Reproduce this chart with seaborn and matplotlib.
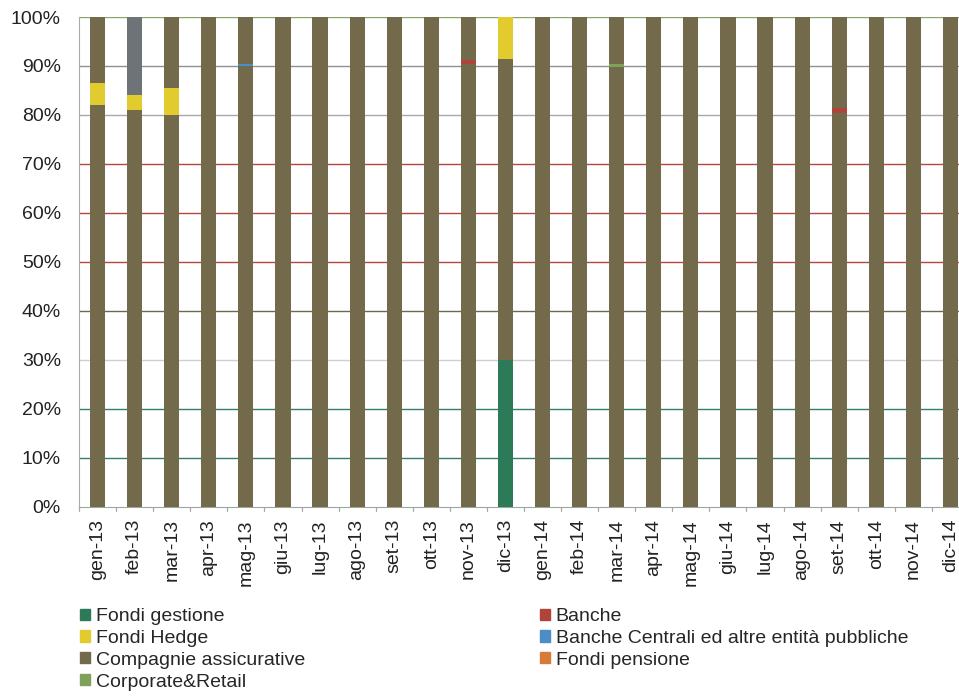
import matplotlib
matplotlib.use("Agg")
import matplotlib.pyplot as plt
from matplotlib.patches import Patch
import seaborn as sns
import numpy as np

months = ["gen-13", "feb-13", "mar-13", "apr-13", "mag-13", "giu-13", "lug-13", "ago-13",
          "set-13", "ott-13", "nov-13", "dic-13", "gen-14", "feb-14", "mar-14", "apr-14",
          "mag-14", "giu-14", "lug-14", "ago-14", "set-14", "ott-14", "nov-14", "dic-14"]

# values in %, stacked bottom -> top
fondi_gestione   = [0, 0, 0, 0, 0, 0, 0, 0, 0, 0, 0, 30, 0, 0, 0, 0, 0, 0, 0, 0, 0, 0, 0, 0]
compagnie_base   = [82, 81, 80, 100, 90, 100, 100, 100, 100, 100, 90.5, 61.5, 100, 100, 89.7, 100,
                    100, 100, 100, 100, 80.3, 100, 100, 100]
fondi_hedge      = [4.5, 3, 5.5, 0, 0, 0, 0, 0, 0, 0, 0, 8.5, 0, 0, 0, 0, 0, 0, 0, 0, 0, 0, 0, 0]
banche           = [0, 0, 0, 0, 0, 0, 0, 0, 0, 0, 0.8, 0, 0, 0, 0, 0, 0, 0, 0, 0, 1.2, 0, 0, 0]
banche_centrali  = [0, 0, 0, 0, 0.5, 0, 0, 0, 0, 0, 0, 0, 0, 0, 0, 0, 0, 0, 0, 0, 0, 0, 0, 0]
fondi_pensione   = [0, 0, 0, 0, 0, 0, 0, 0, 0, 0, 0, 0, 0, 0, 0, 0, 0, 0, 0, 0, 0, 0, 0, 0]
corporate_retail = [0, 0, 0, 0, 0, 0, 0, 0, 0, 0, 0, 0, 0, 0, 0.7, 0, 0, 0, 0, 0, 0, 0, 0, 0]
compagnie_top    = [13.5, 0, 14.5, 0, 9.5, 0, 0, 0, 0, 0, 8.7, 0, 0, 0, 9.6, 0, 0, 0, 0, 0,
                    18.5, 0, 0, 0]
altro            = [0, 16, 0, 0, 0, 0, 0, 0, 0, 0, 0, 0, 0, 0, 0, 0, 0, 0, 0, 0, 0, 0, 0, 0]

C_GEST = "#2C7A57"
C_BAN = "#B0433A"
C_HEDGE = "#E2CB2E"
C_BC = "#4C8DC6"
C_COMP = "#736A4C"
C_PENS = "#D77A3A"
C_CORP = "#7FA25B"
C_ALTRO = "#6E7377"

layers = [
    (fondi_gestione, C_GEST),
    (compagnie_base, C_COMP),
    (fondi_hedge, C_HEDGE),
    (banche, C_BAN),
    (banche_centrali, C_BC),
    (fondi_pensione, C_PENS),
    (corporate_retail, C_CORP),
    (compagnie_top, C_COMP),
    (altro, C_ALTRO),
]

grid_colors = {10: "#2f7f6a", 20: "#2f7f6a", 30: "#cfcfcf", 40: "#6b6a50", 50: "#b5473e",
               60: "#b5473e", 70: "#b5473e", 80: "#a8a8a8", 90: "#8f8f8f", 100: "#8da466"}

sns.set_style("white")
plt.rcParams["font.family"] = ["Liberation Sans", "DejaVu Sans"]

fig = plt.figure(figsize=(9.59, 6.96), dpi=100)
ax = fig.add_axes([79 / 959, 1 - 506.5 / 696, 890 / 959, 489.5 / 696])

cum = np.cumsum(np.array([l[0] for l in layers], dtype=float), axis=0)
for i in range(len(layers) - 1, -1, -1):
    sns.barplot(x=months, y=cum[i], color=layers[i][1], saturation=1, width=0.41,
                errorbar=None, ax=ax, zorder=3, linewidth=0)

ax.set_ylim(0, 100)
ax.set_xlim(-0.5, len(months) - 0.5)
ax.set_yticks(np.arange(0, 101, 10))
ax.set_yticklabels([f"{v}%" for v in range(0, 101, 10)], fontsize=14, color="#222222")
ax.set_xticks(range(len(months)))
ax.set_xticklabels(months, rotation=90, fontsize=14, color="#222222")
ax.tick_params(axis="x", length=0, pad=9)
ax.tick_params(axis="y", length=0, pad=13)
for v in range(10, 101, 10):
    ax.axhline(v, color=grid_colors[v], lw=1.0, zorder=1)
for x in np.arange(-0.5, len(months), 1):
    ax.plot([x, x], [0, -0.9], color="#aaaaaa", lw=0.9, clip_on=False, zorder=2)
for s in ["top", "right"]:
    ax.spines[s].set_visible(False)
ax.spines["left"].set_color("#aaaaaa")
ax.spines["bottom"].set_color("#9aa8a0")
ax.set_xlabel("")
ax.set_ylabel("")

h1 = [Patch(color=C_GEST, label="Fondi gestione"),
      Patch(color=C_HEDGE, label="Fondi Hedge"),
      Patch(color=C_COMP, label="Compagnie assicurative"),
      Patch(color=C_CORP, label="Corporate&Retail")]
h2 = [Patch(color=C_BAN, label="Banche"),
      Patch(color=C_BC, label="Banche Centrali ed altre entità pubbliche"),
      Patch(color=C_PENS, label="Fondi pensione")]
kw = dict(loc="upper left", frameon=False, fontsize=14, handlelength=0.5, handleheight=0.5,
          handletextpad=0.3, labelspacing=0.25, borderaxespad=0, borderpad=0)
fig.legend(handles=h1, bbox_to_anchor=(80 / 959, 1 - 608 / 696), **kw)
fig.legend(handles=h2, bbox_to_anchor=(540 / 959, 1 - 608 / 696), **kw)

fig.savefig("out.png", dpi=100)
